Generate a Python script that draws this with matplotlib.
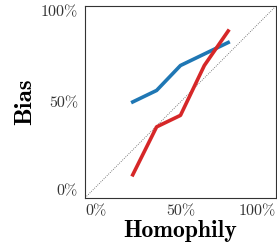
import matplotlib
matplotlib.use("Agg")
import matplotlib.pyplot as plt

plt.rcParams['font.family'] = 'serif'
plt.rcParams['font.serif'] = ['cmr10']
plt.rcParams['mathtext.fontset'] = 'cm'
plt.rcParams['axes.formatter.use_mathtext'] = True

homophily = [0.25, 0.375, 0.5, 0.625, 0.75]
bias_blue = [0.50, 0.56, 0.69, 0.75, 0.81]
bias_red = [0.12, 0.37, 0.43, 0.69, 0.87]
ticks = [0, 0.5, 1]
tick_labels = ['0%', '50%', '100%']

fig = plt.figure(figsize=(2.77, 2.43), dpi=100)
ax = fig.add_axes([0.307, 0.186, 0.689, 0.789])
ax.plot([0, 1], [0, 1], color='#555555', lw=0.6, ls=':')
ax.plot(homophily, bias_blue, color='#1f77b4', lw=2.6)
ax.plot(homophily, bias_red, color='#d62728', lw=2.6)
ax.set_xlim(0, 1)
ax.set_ylim(0, 1)
ax.set_xticks(ticks)
ax.set_yticks(ticks)
ax.set_xticklabels(tick_labels, fontsize=11.5, color='#333333')
ax.set_yticklabels(tick_labels, fontsize=11.5, color='#333333')
xl = ax.get_xticklabels()
xl[0].set_ha('left'); xl[2].set_ha('right')
yl = ax.get_yticklabels()
yl[0].set_va('bottom'); yl[2].set_va('top')
ax.tick_params(length=0, pad=5)
for s in ax.spines.values():
    s.set_color('#333333')
ax.set_xlabel('Homophily', fontsize=17, fontfamily='cmb10', labelpad=1)
ax.set_ylabel('Bias', fontsize=18, fontfamily='cmb10', labelpad=3)
fig.savefig('out.png', dpi=100)
